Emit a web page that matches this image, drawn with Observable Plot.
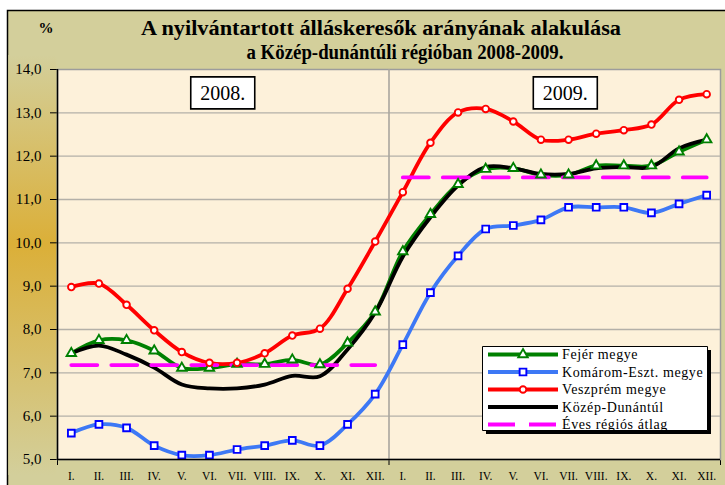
<!DOCTYPE html>
<html><head><meta charset="utf-8">
<script src="https://cdn.jsdelivr.net/npm/d3@7"></script>
<script src="https://cdn.jsdelivr.net/npm/@observablehq/plot@0.6"></script>
<style>
html,body{margin:0;padding:0;background:#fff;}
#chart{width:725px;height:485px;overflow:hidden;}
svg{display:block;}
</style></head><body><div id="chart"></div>
<script>
// ---- data ----
const months = ["I.","II.","III.","IV.","V.","VI.","VII.","VIII.","IX.","X.","XI.","XII."];
const monthLabels = months.concat(months);
const years = ["2008.", "2009."];
const yTicks = [5, 6, 7, 8, 9, 10, 11, 12, 13, 14];
const title1 = "A nyilvántartott álláskeresők arányának alakulása";
const title2 = "a Közép-dunántúli régióban 2008-2009.";
const unit = "%";
const seriesNames = ["Fejér megye", "Komárom-Eszt. megye", "Veszprém megye", "Közép-Dunántúl", "Éves régiós átlag"];
const fejer    = [7.45, 7.75, 7.75, 7.51, 7.11, 7.11, 7.20, 7.20, 7.30, 7.19, 7.69, 8.41,
                  9.80, 10.66, 11.35, 11.70, 11.72, 11.57, 11.57, 11.78, 11.78, 11.78, 12.10, 12.38];
const komarom  = [5.61, 5.81, 5.73, 5.32, 5.10, 5.10, 5.23, 5.32, 5.44, 5.32, 5.81, 6.51,
                  7.65, 8.85, 9.70, 10.32, 10.40, 10.53, 10.82, 10.82, 10.82, 10.69, 10.90, 11.10];
const veszprem = [8.98, 9.06, 8.57, 7.98, 7.48, 7.23, 7.23, 7.45, 7.86, 8.02, 8.94, 10.03,
                  11.17, 12.31, 13.01, 13.09, 12.80, 12.38, 12.38, 12.52, 12.60, 12.73, 13.30, 13.43];
const kozep    = [7.45, 7.63, 7.42, 7.12, 6.73, 6.64, 6.64, 6.73, 6.93, 6.92, 7.54, 8.39,
                  9.68, 10.59, 11.32, 11.75, 11.72, 11.59, 11.59, 11.72, 11.75, 11.75, 12.18, 12.38];
const atlag    = [7.18, 11.51]; // yearly regional average 2008, 2009

// ---- styles ----
const FONT = "'Liberation Serif', 'Times New Roman', serif";
const series = [
  {name: seriesNames[0], vals: fejer,    line: "#008000", mark: "#008000", symbol: "triangle", r: 3.5},
  {name: seriesNames[1], vals: komarom,  line: "#3d78f5", mark: "#0000ff", symbol: "square",   r: 3.8},
  {name: seriesNames[2], vals: veszprem, line: "#ff0000", mark: "#ff0000", symbol: "circle",   r: 3.3},
  {name: seriesNames[3], vals: kozep,    line: "#000000", mark: null},
];
const toRows = v => v.map((y, i) => ({i, y}));
const atlagRows = d3.range(24).map(i => ({i, y: atlag[Math.floor(i / 12)], yr: Math.floor(i / 12)}));
const yearX = [5.5, 17.9], yearY = 13.45;

const marks = [
  Plot.frame({fill: "#fdf1da", stroke: "#9c9c9c", strokeWidth: 1.5}),
  Plot.ruleY(yTicks.slice(1, -1), {stroke: "#b3b0a8", strokeWidth: 1.3}),
  Plot.ruleX([11.5], {stroke: "#a9a69e", strokeWidth: 1.6}),
];
for (const s of series) {
  marks.push(Plot.line(toRows(s.vals), {x: "i", y: "y", stroke: s.line, strokeWidth: 3.8, curve: "catmull-rom"}));
}
marks.push(Plot.line(atlagRows, {x: "i", y: "y", z: "yr", stroke: "#ff00ff", strokeWidth: 3.8, strokeDasharray: "26,14"}));
for (const s of series) {
  if (!s.mark) continue;
  marks.push(Plot.dot(toRows(s.vals), {x: "i", y: "y", symbol: () => s.symbol, r: s.r, stroke: s.mark, strokeWidth: 1.9, fill: "#fff"}));
}
marks.push(
  Plot.ruleX([-0.5], {stroke: "#000", strokeWidth: 1.5}),
  Plot.ruleY([5], {stroke: "#000", strokeWidth: 1.5}),
  Plot.text(monthLabels, {x: (d, i) => i, y: 5, dy: 17, fontSize: 11.5, fill: "#000"}),
  Plot.text([title1], {frameAnchor: "top", lineAnchor: "middle", dx: -8, dy: -41, fontSize: 20, fontWeight: "bold", fill: "#000"}),
  Plot.text([title2], {frameAnchor: "top", lineAnchor: "middle", dx: 16, dy: -17, fontSize: 20, fontWeight: "bold", fill: "#000"}),
  Plot.text([unit], {frameAnchor: "top-left", lineAnchor: "middle", dx: -19, dy: -41, fontSize: 15, fontWeight: "bold", fill: "#000"})
);

const svgEl = Plot.plot({
  width: 725, height: 485,
  marginLeft: 57, marginRight: 5, marginTop: 69, marginBottom: 26,
  style: {background: "transparent", fontFamily: FONT, fontSize: "15px", color: "#000"},
  x: {domain: [-0.5, 23.5], ticks: [-0.5, 11.5, 23.5], tickSize: 6, tickFormat: () => "", label: null},
  y: {domain: [5, 14], ticks: yTicks, tickSize: 7, tickPadding: 9, tickFormat: d => d.toFixed(1).replace(".", ","), label: null},
  marks
});
document.getElementById("chart").appendChild(svgEl);
const sx = svgEl.scale("x"), sy = svgEl.scale("y");

// ---- decoration ----
const svg = d3.select(svgEl);
const boxPath = (x, y, w, h) => `M${x},${y}h${w}v${h}h${-w}Z`;
const defs = svg.insert("defs", ":first-child");
const g = defs.append("linearGradient").attr("id", "goldStrip").attr("x1", 0).attr("y1", 0).attr("x2", 0).attr("y2", 1);
g.append("stop").attr("offset", "0%").attr("stop-color", "#d3cf9b");
g.append("stop").attr("offset", "45%").attr("stop-color", "#dbaf38");
g.append("stop").attr("offset", "100%").attr("stop-color", "#d3cf9b");
const bg = svg.insert("g", "defs + *");
bg.append("path").attr("d", boxPath(7.5, 10.5, 740, 490))
  .attr("fill", "#d3cf9b").attr("stroke", "#000").attr("stroke-width", 1.5);
bg.append("path").attr("d", boxPath(8.3, 55, 48, 420)).attr("fill", "url(#goldStrip)");

// title widths
svg.selectAll("text").each(function() {
  const t = this.textContent;
  if (t === title1) d3.select(this).attr("textLength", 480).attr("lengthAdjust", "spacingAndGlyphs");
  if (t === title2) d3.select(this).attr("textLength", 317).attr("lengthAdjust", "spacingAndGlyphs");
});

// year boxes
const Y = svg.append("g");
years.forEach((t, k) => {
  const cx = sx.apply(yearX[k]), cy = sy.apply(yearY);
  Y.append("path").attr("d", boxPath(cx - 32, cy - 16, 64, 32)).attr("fill", "#fff").attr("stroke", "#000").attr("stroke-width", 1.6);
  Y.append("text").attr("x", cx).attr("y", cy).attr("dy", "0.35em").attr("text-anchor", "middle")
    .attr("font-size", 20).attr("font-family", FONT).attr("fill", "#000").text(t);
});

// legend
const L = svg.append("g").attr("transform", "translate(482,346)");
L.append("path").attr("d", boxPath(4, 4, 225, 84)).attr("fill", "#000");
L.append("path").attr("d", boxPath(0.5, 0.5, 225, 84)).attr("fill", "#fff").attr("stroke", "#000").attr("stroke-width", 1);
const rowY = [8.5, 26, 43.5, 61, 78.5];
const legendItems = series.map(s => s).concat([{name: seriesNames[4], line: "#ff00ff", dash: "27,14"}]);
legendItems.forEach((s, k) => {
  const y = rowY[k];
  L.append("line").attr("x1", 6).attr("x2", 76).attr("y1", y).attr("y2", y)
    .attr("stroke", s.line).attr("stroke-width", 4).attr("stroke-dasharray", s.dash || null);
  if (s.mark) {
    L.append("path").attr("d", d3.symbol(s.symbol === "triangle" ? d3.symbolTriangle : s.symbol === "square" ? d3.symbolSquare : d3.symbolCircle, s.r * s.r * Math.PI)())
      .attr("transform", `translate(41,${y})`).attr("fill", "#fff").attr("stroke", s.mark).attr("stroke-width", 1.9);
  }
  L.append("text").attr("x", 80).attr("y", y).attr("dy", "0.35em").attr("text-anchor", "start").attr("font-size", 14)
    .attr("letter-spacing", 0.6).attr("font-family", FONT).attr("fill", "#000").text(s.name);
});
</script></body></html>
